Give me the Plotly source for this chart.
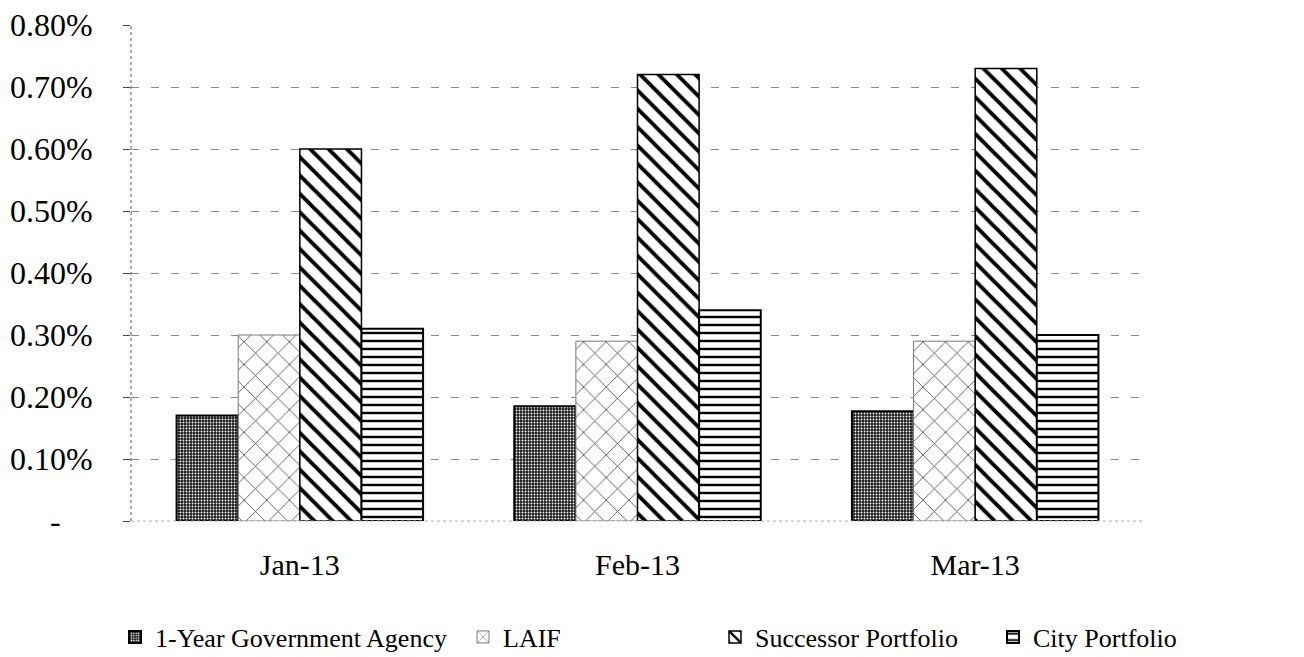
import plotly.graph_objects as go

months = ["Jan-13", "Feb-13", "Mar-13"]
gov_agency = [0.17, 0.185, 0.177]
laif = [0.30, 0.29, 0.29]
successor = [0.60, 0.72, 0.73]
city = [0.31, 0.34, 0.30]
tick_vals = [0, 0.1, 0.2, 0.3, 0.4, 0.5, 0.6, 0.7, 0.8]
tick_text = ["-\u00a0\u00a0\u00a0\u00a0", "0.10%", "0.20%", "0.30%", "0.40%", "0.50%", "0.60%", "0.70%", "0.80%"]

FONT = "Liberation Serif, Times New Roman, serif"

W, H = 1296, 649          # page body has an 8px margin
L, R, T, B = 123, 160, 17, 136
PW = W - L - R
PH = H - T - B

fig = go.Figure()
fig.add_trace(go.Bar(
    x=months, y=gov_agency, name="1-Year Government Agency", legend="legend",
    marker=dict(color="#1c1c1c", line=dict(color="black", width=2),
                pattern=dict(shape=".", fgcolor="#ffffff", bgcolor="#1c1c1c", size=3,
                             solidity=0.3, fgopacity=1)),
))
fig.add_trace(go.Bar(
    x=months, y=laif, name="LAIF", legend="legend2",
    marker=dict(color="white", line=dict(color="#777777", width=1),
                pattern=dict(shape="x", fgcolor="#444444", bgcolor="white", size=16,
                             solidity=0.1, fgopacity=1)),
))
fig.add_trace(go.Bar(
    x=months, y=successor, name="Successor Portfolio", legend="legend3",
    marker=dict(color="white", line=dict(color="black", width=1.5),
                pattern=dict(shape="\\", fgcolor="black", bgcolor="white", size=13,
                             solidity=0.3, fgopacity=1)),
))
fig.add_trace(go.Bar(
    x=months, y=city, name="City Portfolio", legend="legend4",
    marker=dict(color="white", line=dict(color="black", width=2),
                pattern=dict(shape="-", fgcolor="black", bgcolor="white", size=8,
                             solidity=0.3, fgopacity=1)),
))

legend_y = (H - B - 629) / PH
legend_common = dict(orientation="h", yanchor="middle", y=legend_y, xanchor="left",
                     xref="paper", yref="paper",
                     font=dict(family=FONT, size=26, color="black"), bgcolor="rgba(0,0,0,0)",
                     itemwidth=30)

fig.update_layout(
    width=W, height=H,
    paper_bgcolor="white", plot_bgcolor="white",
    margin=dict(l=L, r=R, t=T, b=B, autoexpand=False),
    barmode="group", bargap=0.27, bargroupgap=0,
    font=dict(family=FONT, size=26, color="black"),
    showlegend=True,
    legend=dict(legend_common, x=(107 - L) / PW),
    legend2=dict(legend_common, x=(455 - L) / PW),
    legend3=dict(legend_common, x=(707 - L) / PW),
    legend4=dict(legend_common, x=(985 - L) / PW),
    xaxis=dict(showgrid=False, showline=False, ticks="", ticklabelstandoff=23,
               automargin=False, tickfont=dict(family=FONT, size=30)),
    yaxis=dict(range=[0, 0.8], tickvals=tick_vals, ticktext=tick_text,
               showgrid=True, gridcolor="#8a8a8a", griddash="8px,12px", gridwidth=1,
               zeroline=False, showline=False, ticks="outside", ticklen=7, tickcolor="#444",
               ticklabelstandoff=24, automargin=False, ticklabeloverflow="allow",
               tickfont=dict(family=FONT, size=32)),
)

# axis lines (dotted, as in the scanned original)
fig.add_shape(type="line", xref="paper", yref="paper", x0=0, x1=0, y0=0, y1=1,
              line=dict(color="#555555", width=1, dash="dot"))
fig.add_shape(type="line", xref="paper", yref="paper", x0=0, x1=1, y0=0, y1=0,
              line=dict(color="#aaaaaa", width=1, dash="dot"))

fig.write_html("out.html")
